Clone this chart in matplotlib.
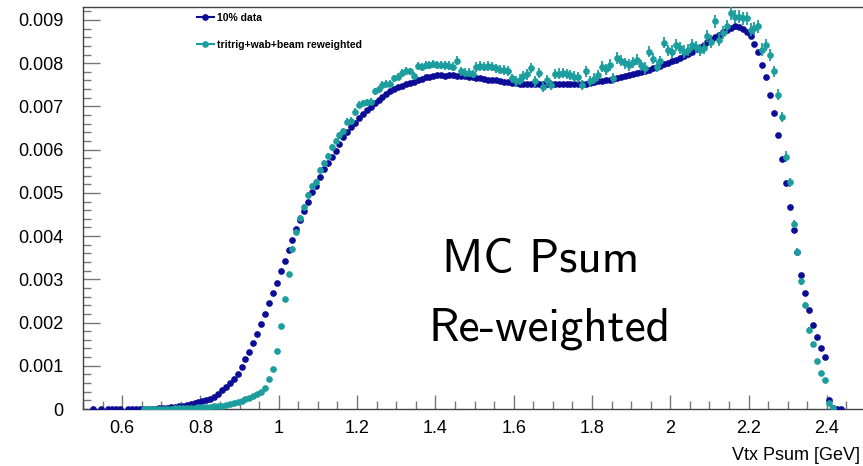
import numpy as np
import matplotlib
matplotlib.use('Agg')
import matplotlib.pyplot as plt
from matplotlib.lines import Line2D
from matplotlib.ticker import MultipleLocator, FuncFormatter

nan = np.nan

# histogram binning: 200 bins of 0.01 GeV from 0.5 to 2.5
BIN_LO = 0.5
BIN_W = 0.01
N_BINS = 200

# 10% data, in units of 1e-3 (one row per 0.1 GeV)
data_vals = [
    nan, nan, 0, nan, 0, nan, 0, 0, 0, 0,
    nan, 0, 0, 0, 0, 0.003, 0.005, 0.008, 0.010, 0.015,
    0.020, 0.030, 0.040, 0.050, 0.060, 0.080, 0.100, 0.120, 0.140, 0.160,
    0.18, 0.21, 0.24, 0.28, 0.35, 0.43, 0.50, 0.59, 0.70, 0.82,
    0.98, 1.15, 1.33, 1.53, 1.74, 1.96, 2.20, 2.45, 2.69, 2.92,
    3.20, 3.43, 3.68, 3.91, 4.16, 4.37, 4.58, 4.80, 5.01, 5.16,
    5.36, 5.55, 5.70, 5.84, 5.98, 6.13, 6.29, 6.40, 6.52, 6.62,
    6.74, 6.82, 6.91, 6.99, 7.08, 7.15, 7.21, 7.29, 7.35, 7.40,
    7.45, 7.48, 7.52, 7.55, 7.57, 7.61, 7.64, 7.67, 7.69, 7.71,
    7.72, 7.72, 7.71, 7.72, 7.72, 7.71, 7.70, 7.70, 7.69, 7.68,
    7.66, 7.65, 7.63, 7.62, 7.61, 7.60, 7.59, 7.57, 7.56, 7.55,
    7.54, 7.53, 7.53, 7.52, 7.52, 7.51, 7.52, 7.52, 7.51, 7.52,
    7.53, 7.52, 7.53, 7.52, 7.52, 7.51, 7.52, 7.52, 7.53, 7.54,
    7.56, 7.58, 7.59, 7.61, 7.62, 7.64, 7.66, 7.68, 7.70, 7.72,
    7.75, 7.77, 7.79, 7.81, 7.85, 7.88, 7.91, 7.94, 7.97, 8.00,
    8.04, 8.08, 8.12, 8.17, 8.22, 8.27, 8.32, 8.38, 8.43, 8.48,
    8.54, 8.60, 8.66, 8.72, 8.77, 8.81, 8.85, 8.84, 8.80, 8.73,
    8.62, 8.44, 8.25, 7.96, 7.68, 7.27, 6.84, 6.33, 5.78, 5.22,
    4.68, 4.14, 3.63, 3.11, 2.68, 2.29, 1.94, 1.67, 1.40, 1.20,
    0.21, 0.02, 0, 0, nan, nan, nan, nan, nan, nan,
]

# tritrig+wab+beam reweighted MC, in units of 1e-3
mc_vals = [
    nan, nan, nan, nan, nan, nan, nan, nan, nan, nan,
    nan, nan, nan, nan, nan, 0, 0, 0, 0.003, 0.005,
    0.007, 0.009, 0.011, 0.014, 0.017, 0.020, 0.024, 0.028, 0.032, 0.036,
    0.04, 0.045, 0.05, 0.06, 0.07, 0.08, 0.09, 0.11, 0.13, 0.16,
    0.19, 0.22, 0.26, 0.30, 0.35, 0.40, 0.48, 0.69, 0.92, 1.35,
    1.92, 2.55, 3.13, 3.70, 4.10, 4.43, 4.68, 4.95, 5.16, 5.26,
    5.52, 5.70, 5.86, 6.05, 6.20, 6.33, 6.42, 6.65, 6.67, 6.88,
    7.04, 7.08, 7.10, 7.11, 7.35, 7.40, 7.50, 7.52, 7.52, 7.65,
    7.69, 7.77, 7.83, 7.81, 7.71, 7.94, 7.91, 7.96, 7.96, 7.98,
    7.96, 7.96, 7.95, 7.94, 7.92, 8.06, 7.81, 7.78, 7.78, 7.75,
    7.91, 7.93, 7.92, 7.93, 7.92, 7.88, 7.85, 7.84, 7.82, 7.65,
    7.58, 7.62, 7.71, 7.74, 7.89, 7.58, 7.78, 7.45, 7.60, 7.50,
    7.75, 7.76, 7.77, 7.75, 7.72, 7.69, 7.67, 7.50, 7.81, 7.58,
    7.64, 7.72, 7.92, 7.86, 7.96, 7.65, 8.12, 8.06, 8.00, 7.96,
    8.02, 8.08, 7.95, 7.89, 8.27, 8.10, 7.92, 8.04, 8.47, 8.30,
    8.27, 8.43, 8.35, 8.27, 8.30, 8.43, 8.38, 8.31, 8.35, 8.62,
    8.50, 8.97, 8.54, 8.70, 8.85, 9.16, 9.08, 9.08, 9.04, 9.04,
    8.77, 8.81, 8.85, 8.31, 8.43, 8.19, 7.81, 7.27, 6.75, 5.84,
    5.24, 4.28, 3.63, 2.96, 2.40, 1.83, 1.50, 1.12, 0.83, 0.67,
    0.15, 0.02, nan, nan, nan, nan, nan, nan, nan, nan,
]

# statistical errors on the MC, in units of 1e-3
mc_errs = [
    0, 0, 0, 0, 0, 0, 0, 0, 0, 0,
    0, 0, 0, 0, 0, 0, 0, 0, 0, 0,
    0.005, 0.005, 0.005, 0.005, 0.005, 0.005, 0.005, 0.005, 0.005, 0.005,
    0.01, 0.01, 0.01, 0.01, 0.01, 0.01, 0.01, 0.01, 0.01, 0.01,
    0.01, 0.01, 0.01, 0.015, 0.015, 0.02, 0.02, 0.03, 0.03, 0.04,
    0.04, 0.05, 0.05, 0.06, 0.06, 0.06, 0.07, 0.07, 0.07, 0.07,
    0.07, 0.07, 0.07, 0.08, 0.08, 0.08, 0.08, 0.08, 0.08, 0.08,
    0.08, 0.08, 0.08, 0.08, 0.08, 0.08, 0.08, 0.08, 0.08, 0.08,
    0.09, 0.09, 0.09, 0.09, 0.09, 0.09, 0.09, 0.09, 0.09, 0.09,
    0.10, 0.10, 0.10, 0.10, 0.10, 0.10, 0.10, 0.10, 0.10, 0.10,
    0.11, 0.11, 0.11, 0.11, 0.11, 0.11, 0.11, 0.11, 0.11, 0.11,
    0.12, 0.12, 0.12, 0.12, 0.12, 0.12, 0.12, 0.12, 0.12, 0.12,
    0.12, 0.12, 0.12, 0.12, 0.12, 0.12, 0.12, 0.12, 0.12, 0.12,
    0.13, 0.13, 0.13, 0.13, 0.13, 0.13, 0.13, 0.13, 0.13, 0.13,
    0.13, 0.13, 0.13, 0.13, 0.13, 0.13, 0.13, 0.13, 0.13, 0.13,
    0.14, 0.14, 0.14, 0.14, 0.14, 0.14, 0.14, 0.14, 0.14, 0.14,
    0.15, 0.15, 0.15, 0.15, 0.15, 0.15, 0.15, 0.15, 0.15, 0.15,
    0.15, 0.15, 0.15, 0.15, 0.14, 0.14, 0.13, 0.13, 0.12, 0.12,
    0.11, 0.10, 0.09, 0.08, 0.07, 0.06, 0.05, 0.04, 0.03, 0.03,
    0.02, 0.01, 0, 0, 0, 0, 0, 0, 0, 0,
]

labels = ['10% data', 'tritrig+wab+beam reweighted']
colors = ['#0c0c96', '#1d9e9e']

FIG_W, FIG_H = 863, 466


def main():
    centers = BIN_LO + BIN_W * (np.arange(N_BINS) + 0.5)
    data = np.array(data_vals) * 1e-3
    mc = np.array(mc_vals) * 1e-3
    mc_err = np.array(mc_errs) * 1e-3

    fig = plt.figure(figsize=(FIG_W / 100, FIG_H / 100), dpi=100)
    # right edge of the frame sits just outside the picture
    ax = fig.add_axes([83 / FIG_W, 57 / FIG_H, (866 - 83) / FIG_W, (409 - 7) / FIG_H])

    ax.errorbar(centers, data, xerr=BIN_W / 2, fmt='o', color=colors[0],
                ms=3.8, elinewidth=1.0, capsize=0, zorder=3)
    ax.errorbar(centers, mc, yerr=mc_err, xerr=BIN_W / 2, fmt='o', color=colors[1],
                ms=3.8, elinewidth=1.3, capsize=0, zorder=4)

    ax.set_xlim(0.5, 2.5)
    ax.set_ylim(0, 0.0093)

    ax.xaxis.set_major_locator(MultipleLocator(0.2))
    ax.xaxis.set_minor_locator(MultipleLocator(0.05))
    ax.yaxis.set_major_locator(MultipleLocator(0.001))
    ax.yaxis.set_minor_locator(MultipleLocator(0.0002))
    fmt = FuncFormatter(lambda v, p: '%g' % round(v, 4))
    ax.xaxis.set_major_formatter(fmt)
    ax.yaxis.set_major_formatter(fmt)

    tick_font = {'family': 'Liberation Sans', 'size': 13}
    ax.tick_params(axis='both', which='both', direction='in', color='#777777',
                   top=False, right=False)
    ax.tick_params(axis='y', which='major', length=12, width=1.0, pad=14)
    ax.tick_params(axis='y', which='minor', length=6, width=1.0)
    ax.tick_params(axis='x', which='major', length=10, width=1.0, pad=8)
    ax.tick_params(axis='x', which='minor', length=6, width=1.0)
    for lab in ax.get_xticklabels() + ax.get_yticklabels():
        lab.set_fontfamily(tick_font['family'])
        lab.set_fontsize(tick_font['size'])

    for side in ['left', 'bottom', 'top']:
        ax.spines[side].set_color('#444444')
        ax.spines[side].set_linewidth(1.0)
    ax.spines['right'].set_visible(False)

    fig.text(860 / FIG_W, 1 - 456 / FIG_H, 'Vtx Psum [GeV]', ha='right', va='center',
             family='Liberation Sans', fontsize=13)

    handles = [Line2D([0], [0], color=c, marker='o', ms=3.8, lw=1.5) for c in colors]
    fig.legend(handles, labels, loc='upper left', bbox_to_anchor=(197 / FIG_W, 1 - 13 / FIG_H),
               frameon=False, handlelength=1.6, handletextpad=0.3, labelspacing=1.6,
               borderpad=0, borderaxespad=0,
               prop={'family': 'Liberation Sans', 'weight': 'bold', 'size': 7.5})

    fig.text(442 / FIG_W, 1 - 272 / FIG_H, 'MC Psum', ha='left', va='baseline',
             family='cmss10', fontsize=34)
    fig.text(428 / FIG_W, 1 - 340 / FIG_H, 'Re-weighted', ha='left', va='baseline',
             family='cmss10', fontsize=34)

    fig.savefig('out.png', dpi=100)


if __name__ == '__main__':
    main()
